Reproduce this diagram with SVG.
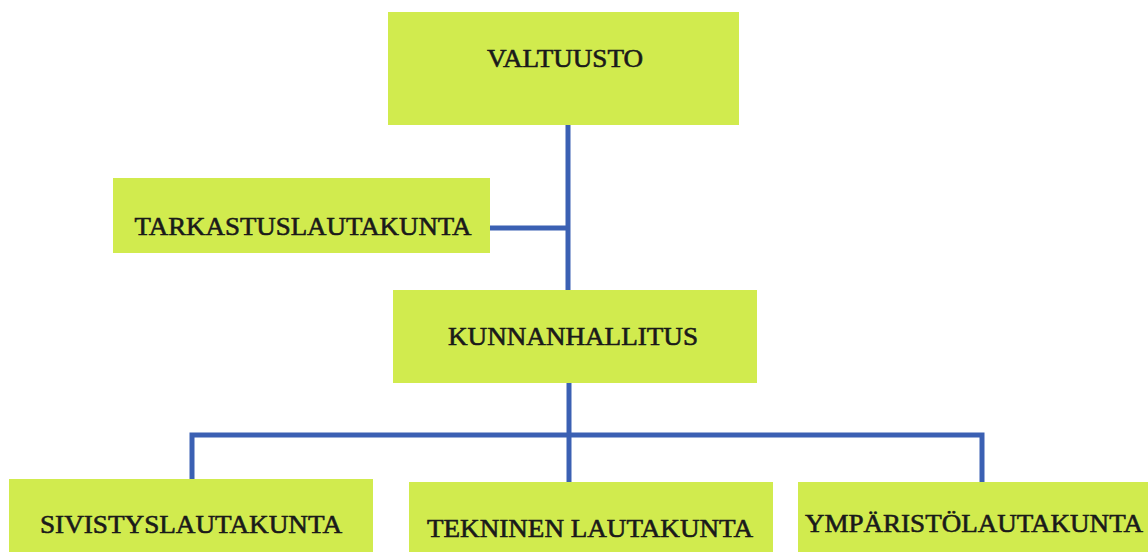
<svg xmlns="http://www.w3.org/2000/svg" width="1148" height="552" viewBox="0 0 1148 552">
<style>
.box{fill:#d1eb4e;}
.lbl{font-family:"Liberation Serif","Times New Roman",serif;font-size:26px;fill:#1a1a1a;stroke:#1a1a1a;stroke-width:0.6;text-anchor:middle;}
.conn{stroke:#3b60b3;stroke-width:5;fill:none;stroke-linejoin:miter;}
</style>
<rect width="1148" height="552" fill="#ffffff"/>
<g id="connectors">
<path class="conn" d="M568,125 V290"/>
<path class="conn" d="M490,228 H568"/>
<path class="conn" d="M569,383 V482"/>
<path class="conn" d="M192,479 V435 H982 V482"/>
</g>
<g id="valtuusto">
<rect class="box" x="388" y="12" width="351" height="113"/>
<text class="lbl" x="565" y="67" textLength="156" lengthAdjust="spacingAndGlyphs">VALTUUSTO</text>
</g>
<g id="tarkastuslautakunta">
<rect class="box" x="113" y="178" width="377" height="75"/>
<text class="lbl" x="303" y="235" textLength="337" lengthAdjust="spacingAndGlyphs">TARKASTUSLAUTAKUNTA</text>
</g>
<g id="kunnanhallitus">
<rect class="box" x="393" y="290" width="364" height="93"/>
<text class="lbl" x="573" y="345" textLength="250" lengthAdjust="spacingAndGlyphs">KUNNANHALLITUS</text>
</g>
<g id="sivistyslautakunta">
<rect class="box" x="9" y="479" width="364" height="73"/>
<text class="lbl" x="191" y="533" textLength="302" lengthAdjust="spacingAndGlyphs">SIVISTYSLAUTAKUNTA</text>
</g>
<g id="tekninen">
<rect class="box" x="409" y="482" width="364" height="70"/>
<text class="lbl" x="590" y="537" textLength="326" lengthAdjust="spacingAndGlyphs">TEKNINEN LAUTAKUNTA</text>
</g>
<g id="ymparisto">
<rect class="box" x="798" y="482" width="350" height="70"/>
<text class="lbl" x="974" y="532" textLength="338" lengthAdjust="spacingAndGlyphs">YMPÄRISTÖLAUTAKUNTA</text>
</g>
</svg>
